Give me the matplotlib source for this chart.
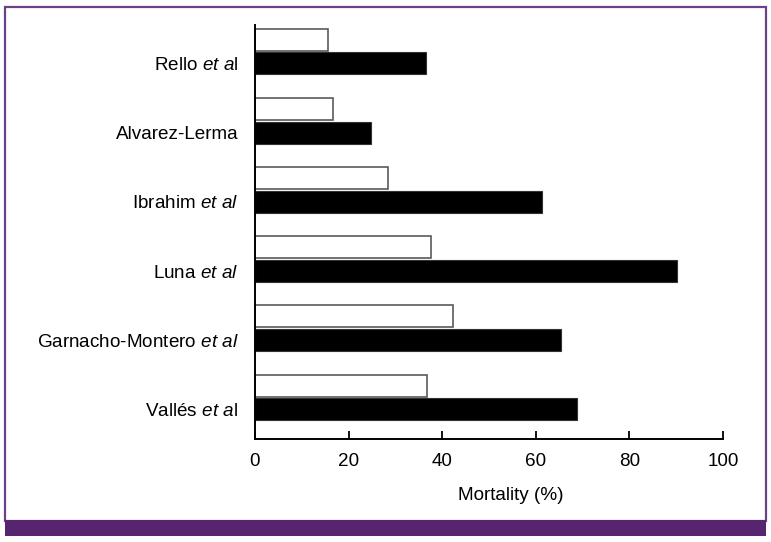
import matplotlib
matplotlib.use("Agg")
import matplotlib.pyplot as plt
from matplotlib.patches import Rectangle
from matplotlib import font_manager

# ---- data ----
studies = ["Rello", "Alvarez-Lerma", "Ibrahim", "Luna", "Garnacho-Montero", "Vallés"]
labels = [r"Rello $\mathit{et\ a}$l", "Alvarez-Lerma", r"Ibrahim $\mathit{et\ al}$",
          r"Luna $\mathit{et\ al}$", r"Garnacho-Montero $\mathit{et\ al}$", r"Vallés $\mathit{et\ a}$l"]
white_vals = [15.6, 16.6, 28.4, 37.6, 42.4, 36.8]
black_vals = [36.5, 24.8, 61.4, 90.1, 65.3, 68.7]
xticks = [0, 20, 40, 60, 80, 100]
xlabel = "Mortality (%)"

names = {f.name for f in font_manager.fontManager.ttflist}
narrow = "Liberation Sans Narrow" in names
fam = "Liberation Sans Narrow" if narrow else "Liberation Sans"
fs = 16 if narrow else 13.6
plt.rcParams["font.family"] = [fam, "DejaVu Sans"]
plt.rcParams["mathtext.fontset"] = "custom"
plt.rcParams["mathtext.rm"] = fam
plt.rcParams["mathtext.it"] = fam + ":italic"

W, H = 771, 542
fig = plt.figure(figsize=(W / 100, H / 100), dpi=100)

# purple frame
purple = "#57246f"
fig.patches.append(Rectangle((5 / W, 1 - 521 / H), 761 / W, 514 / H, transform=fig.transFigure,
                             fill=False, edgecolor="#6b4188", linewidth=1.6))
fig.patches.append(Rectangle((5 / W, 1 - 536 / H), 761 / W, 16 / H, transform=fig.transFigure,
                             facecolor=purple, edgecolor="none"))

ax = fig.add_axes([255 / W, 1 - 439 / H, 468 / W, 414 / H])
n = len(studies)
pos = list(range(n))
off = 0.173
h = 0.318
ax.barh([p - off for p in pos], white_vals, height=h, color="white", edgecolor="#5a5a5a", linewidth=1.2)
ax.barh([p + off for p in pos], black_vals, height=h, color="black", edgecolor="#333333", linewidth=0.8)

ax.set_xlim(0, 100)
ax.set_ylim(5.60, -0.383)
ax.set_xticks(xticks)
ax.set_xticklabels([str(t) for t in xticks], fontsize=fs)
ax.set_yticks([p + off for p in pos])
ax.set_yticklabels(labels, fontsize=fs)
ax.tick_params(axis="x", direction="in", length=6, width=1.3, pad=10, colors="black")
ax.tick_params(axis="y", length=0, pad=12)
for s in ["top", "right"]:
    ax.spines[s].set_visible(False)
for s in ["left", "bottom"]:
    ax.spines[s].set_linewidth(1.4)
ax.set_xlabel(xlabel, fontsize=fs)
ax.xaxis.set_label_coords((511 - 255) / 468, -(495 - 439) / 414)
ax.xaxis.label.set_va("center")

fig.savefig("out.png", dpi=100)
